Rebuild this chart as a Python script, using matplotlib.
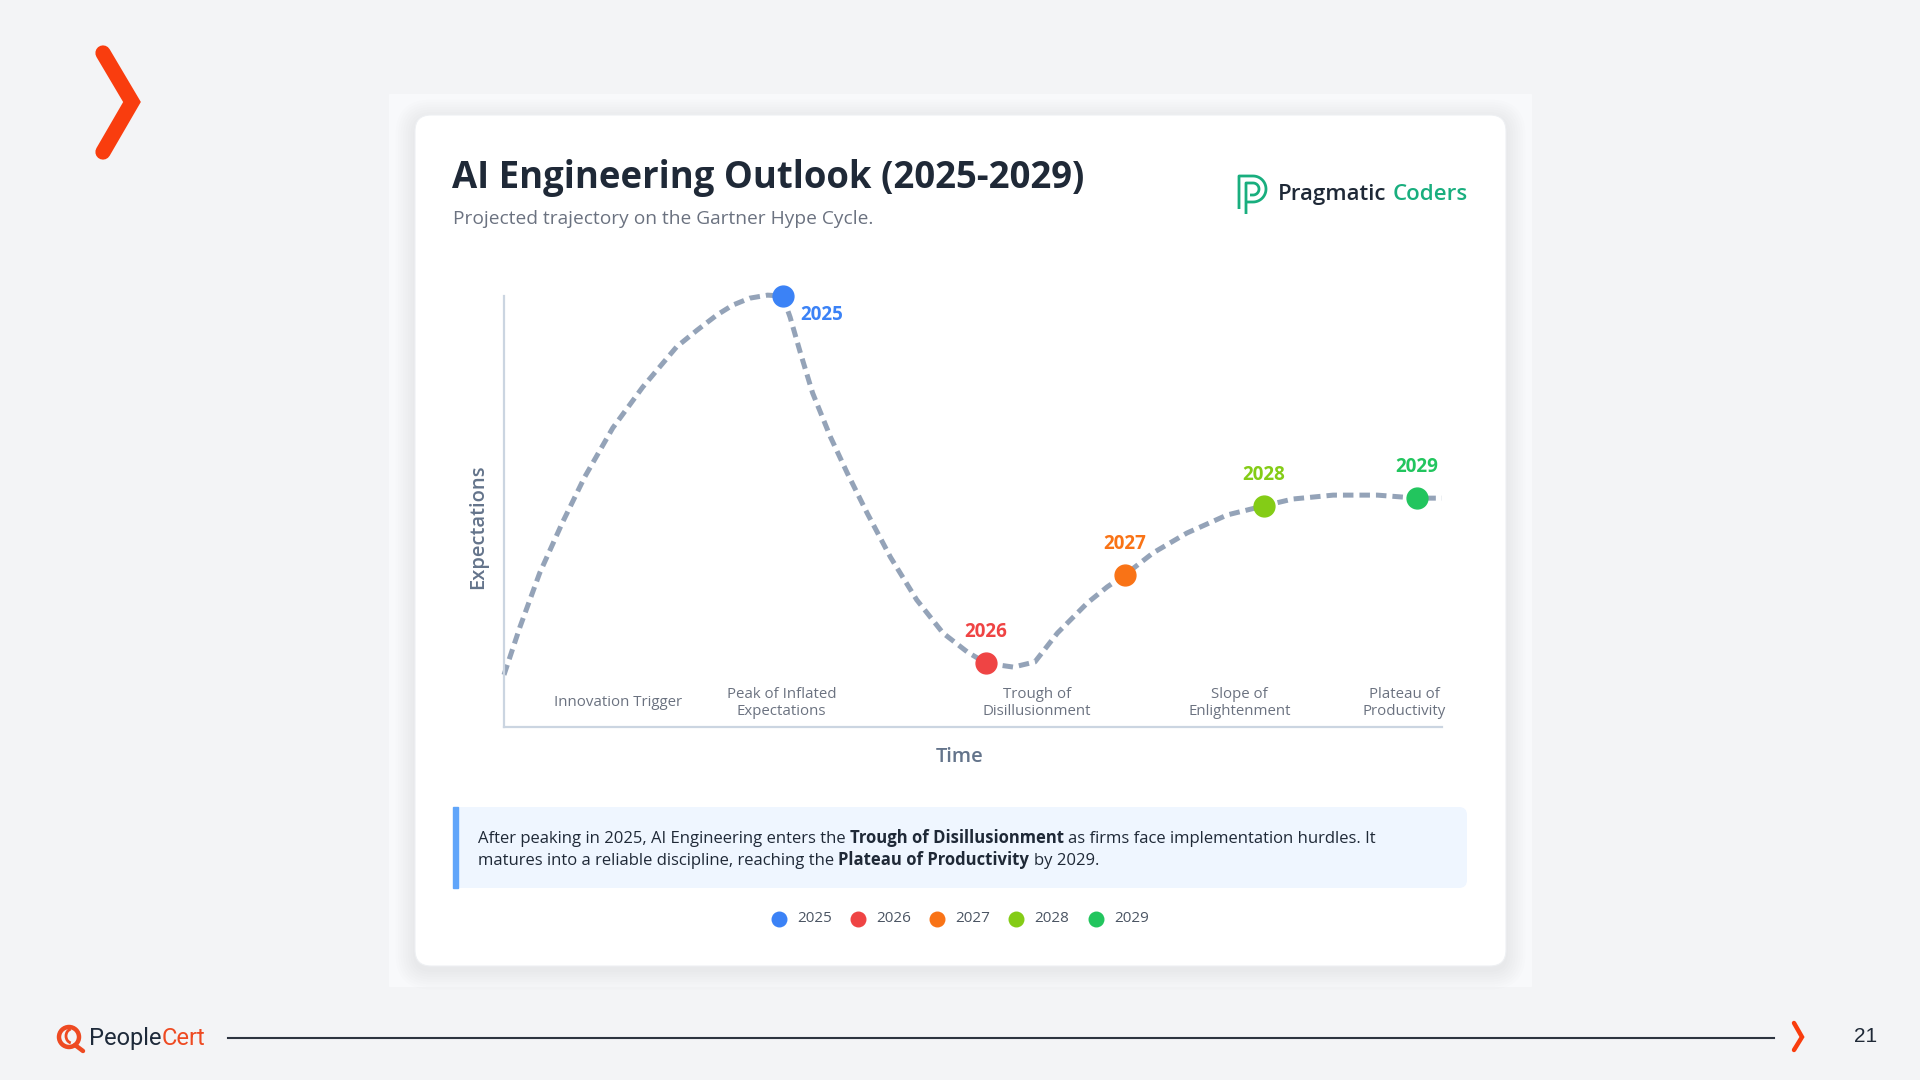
import matplotlib
matplotlib.use("Agg")
import matplotlib.pyplot as plt
from matplotlib.patches import FancyBboxPatch, Rectangle, Circle, Arc
import numpy as np

plt.rcParams['font.family'] = ['Open Sans', 'DejaVu Sans']

# ---------------- data ----------------
title = "AI Engineering Outlook (2025-2029)"
subtitle = "Projected trajectory on the Gartner Hype Cycle."

# hype-cycle curve (x: time 0-100, y: expectations 0-100)
curve_x = [0.0, 1.7, 3.8, 6.2, 8.6, 11.6, 14.8, 18.4, 20.6, 22.7, 24.4, 26.2, 28.1, 29.7,
           30.5, 31.6, 32.9, 34.8, 36.6, 38.7, 41.2, 44.0, 46.8, 49.4, 51.4,
           54.3, 56.6, 59.0, 62.2, 64.3, 66.2, 69.2, 72.8, 77.1, 81.0,
           84.1, 88.4, 93.1, 97.3, 100.0]
curve_y = [12.1, 23.2, 35.7, 47.3, 58.0, 69.4, 78.9, 88.2, 92.1, 95.6, 97.9, 99.5, 100.2, 100.0,
           95.1, 86.8, 77.5, 67.3, 58.9, 49.7, 39.4, 29.5, 21.8, 17.4, 14.8,
           13.9, 15.1, 21.8, 28.8, 32.5, 35.3, 40.4, 45.0, 49.2, 51.3,
           52.9, 53.8, 53.8, 53.1, 53.1]

years = ["2025", "2026", "2027", "2028", "2029"]
year_x = [29.7, 51.4, 66.2, 81.0, 97.3]
year_y = [100.0, 14.8, 35.3, 51.3, 53.1]
year_colors = ["#3b82f6", "#ef4444", "#f97316", "#84cc16", "#22c55e"]

phases = ["Innovation Trigger", "Peak of Inflated\nExpectations",
          "Trough of\nDisillusionment", "Slope of\nEnlightenment",
          "Plateau of\nProductivity"]
phase_x = [12.2, 29.6, 56.8, 78.4, 96.0]
phase_y = 5.6

y_label = "Expectations"
x_label = "Time"

caption_line1 = [("After peaking in 2025, AI Engineering enters the", "normal"),
                 ("Trough of Disillusionment", "bold"),
                 ("as firms face implementation hurdles. It", "normal")]
caption_line2 = [("matures into a reliable discipline, reaching the", "normal"),
                 ("Plateau of Productivity", "bold"),
                 ("by 2029.", "normal")]
page_number = "21"

# ---------------- figure ----------------
W, H = 1920, 1080
fig = plt.figure(figsize=(19.2, 10.8), dpi=100)
fig.patch.set_facecolor("#f3f4f6")

ov = fig.add_axes([0, 0, 1, 1])
ov.set_xlim(0, W)
ov.set_ylim(H, 0)
ov.axis("off")
ov.set_zorder(0)

# background panel
ov.add_patch(Rectangle((389, 94), 1142, 892, color="#f8f9fb", zorder=0))
# card shadow
for i in range(8):
    pad = 2 + i * 2.5
    ov.add_patch(FancyBboxPatch((415 - pad, 116 - pad + 3), 1091 + 2 * pad, 851 + 2 * pad,
                                boxstyle="round,pad=0,rounding_size=%f" % (16 + pad),
                                facecolor="#000000", edgecolor="none", alpha=0.008, zorder=1))
ov.add_patch(FancyBboxPatch((415, 115), 1091, 851,
                            boxstyle="round,pad=0,rounding_size=16",
                            facecolor="white", edgecolor="#eef0f3", lw=0.8, zorder=2))

renderer = fig.canvas.get_renderer()


def text_width(t):
    return t.get_window_extent(renderer).width


def space_width(**kw):
    a = ov.text(0, -100, "x x", **kw)
    b = ov.text(0, -100, "xx", **kw)
    w = text_width(a) - text_width(b)
    a.remove(); b.remove()
    return w


def rich(x, y, runs, **kw):
    for i, (s, wt) in enumerate(runs):
        t = ov.text(x, y, s, fontweight=wt, va="baseline", ha="left", zorder=5, **kw)
        x += text_width(t) + space_width(fontweight=wt, **kw)
    return x


# title
ov.text(452, 188, title, fontsize=26.3, fontweight="bold", color="#1f2937",
        va="baseline", ha="left", zorder=5)
ov.text(453, 219.5, subtitle, fontsize=13.8, color="#6b7280", va="center", ha="left", zorder=5)

# Pragmatic Coders logo
green = "#19ae7e"
t_r = np.linspace(0, np.pi, 30)
cx, cy = 1253, 189
ox = [1239, 1239, 1253] + list(cx + 13 * np.sin(t_r)) + [1246]
oy = [209, 176, 176] + list(cy - 13 * np.cos(t_r)) + [202]
ov.plot(ox, oy, color=green, lw=2.0, solid_capstyle="butt", zorder=5)
ix = [1246, 1246, 1253] + list(cx + 6 * np.sin(t_r)) + [1250]
iy = [214, 183, 183] + list(cy - 6 * np.cos(t_r)) + [195]
ov.plot(ix, iy, color=green, lw=2.0, solid_capstyle="butt", zorder=5)
xx = rich(1278, 200, [("Pragmatic", "semibold")], fontsize=16, color="#1f2937")
ov.text(xx, 200, "Coders", fontsize=16, fontweight="semibold", color=green,
        va="baseline", ha="left", zorder=5)

# ---------------- chart axes ----------------
ax = fig.add_axes([504 / W, 1 - 727 / H, 938 / W, 431 / H])
ax.set_zorder(3)
ax.patch.set_alpha(0)
ax.set_xlim(0, 100)
ax.set_ylim(0, 100)
ax.set_xticks([])
ax.set_yticks([])
for s in ["top", "right"]:
    ax.spines[s].set_visible(False)
for s in ["left", "bottom"]:
    ax.spines[s].set_color("#cbd5e1")
    ax.spines[s].set_linewidth(1.6)

ax.plot(curve_x, curve_y, color="#94a3b8", lw=3.6, dashes=(2.1, 1.2),
        dash_capstyle="butt", clip_on=False, zorder=2)
for yr, x, y, c in zip(years, year_x, year_y, year_colors):
    ax.plot([x], [y], "o", color=c, markersize=15, mec=c, clip_on=False, zorder=4)
    if yr == "2025":
        ax.annotate(yr, (x, y), xytext=(13, -13.5), textcoords="offset points",
                    ha="left", va="center", fontsize=13.5, fontweight="bold", color=c,
                    annotation_clip=False)
    else:
        ax.annotate(yr, (x, y), xytext=(0, 22.5), textcoords="offset points",
                    ha="center", va="center", fontsize=13.5, fontweight="bold", color=c,
                    annotation_clip=False)

for lab, x in zip(phases, phase_x):
    ax.text(x, phase_y, lab, ha="center", va="center", fontsize=10.8,
            color="#6b7280", linespacing=1.2)

ov.text(478, 527, y_label, rotation=90, fontsize=14.5, fontweight="semibold",
        color="#64748b", ha="center", va="center", zorder=5)
ov.text(960, 757.5, x_label, fontsize=14.5, fontweight="semibold",
        color="#64748b", ha="center", va="center", zorder=5)

# ---------------- caption box ----------------
ov.add_patch(FancyBboxPatch((453, 807), 1014, 81, boxstyle="round,pad=0,rounding_size=8",
                            facecolor="#eff6ff", edgecolor="none", zorder=3))
ov.add_patch(Rectangle((453, 807), 4.5, 81, color="#60a5fa", zorder=4))
rich(478, 842.7, caption_line1, fontsize=11.95, color="#1f2937")
rich(478, 864.7, caption_line2, fontsize=11.95, color="#1f2937")

# ---------------- legend ----------------
leg_x = [779, 858, 937, 1016, 1096]
for yr, x, c in zip(years, leg_x, year_colors):
    ov.scatter([x], [919], s=110, color=c, zorder=5)
    ov.text(x + 18, 919, yr, fontsize=11, color="#4b5563", va="center", ha="left", zorder=5)

# ---------------- slide decorations ----------------
orange = "#f93d0e"
ov.plot([103, 132, 103], [53, 102, 152], color=orange, lw=11, solid_capstyle="round",
        solid_joinstyle="miter", zorder=5)

# footer
ov.plot([228, 1774], [1038, 1038], color="#2d3440", lw=1.5, zorder=5)
ov.plot([1794, 1802, 1794], [1023, 1037, 1050], color=orange, lw=3.2,
        solid_capstyle="round", solid_joinstyle="miter", zorder=5)
ov.text(1866, 1037, page_number, fontsize=15, color="#1f2937", family="Liberation Sans",
        ha="center", va="center", zorder=5)

# PeopleCert logo
pc_orange = "#ee4a22"
ov.add_patch(Circle((69, 1037), 10, fill=False, ec=pc_orange, lw=3.2, zorder=5))
ov.add_patch(Arc((72, 1036), 12, 14, theta1=100, theta2=260, ec=pc_orange, lw=2.0, zorder=5))
ov.plot([75, 83], [1045, 1051], color=pc_orange, lw=3.2, solid_capstyle="round", zorder=5)
xx = rich(89, 1045, [("People", "normal")], fontsize=17, color="#1e2a3a", family="Roboto")
ov.text(xx - space_width(fontsize=17, family="Roboto"), 1045, "Cert", fontsize=17,
        color=pc_orange, family="Roboto", va="baseline", ha="left", zorder=5)

fig.savefig("out.png", dpi=100, facecolor=fig.get_facecolor())
